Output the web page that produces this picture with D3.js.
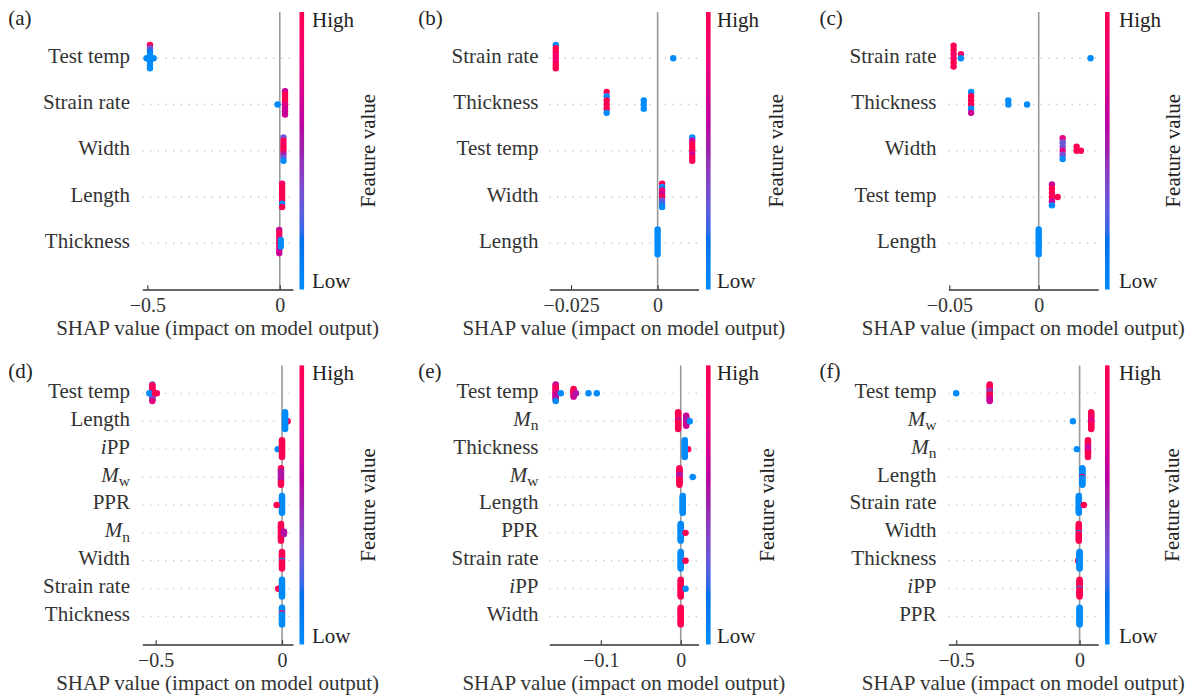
<!DOCTYPE html>
<head>
  <meta charset="utf-8">
  <script src="https://d3js.org/d3.v7.min.js"></script>
  <style>
    body { margin: 0; background: #fff; }
    svg text { font-family: "Liberation Serif", "Times New Roman", Tinos, "Noto Serif", "DejaVu Serif", "Nimbus Roman", FreeSerif, serif; }
  </style>
</head>

<body>
  <div id="shap"></div>
</body>

<script>
  // ---- data: one row per feature, each row = clusters of [SHAP value, feature-value codes top->bottom]
  // codes: 0 = low feature value (blue) ... 9 = high (red)
  const featuresA = ["Test temp", "Strain rate", "Width", "Length", "Thickness"];
  const shapA = [
    [[-0.49, "93100000"], [-0.476, "0"], [-0.503, "0"]],
    [[-0.008, "0"], [0.020, "69997666"]],
    [[0.014, "39899530"]],
    [[0.009, "89999909"]],
    [[-0.002, "69899866"], [0.004, "000"]]
  ];
  const ticksA = [-0.5, 0];
  const xlimA = [-0.519, 0.050];

  const featuresB = ["Strain rate", "Thickness", "Test temp", "Width", "Length"];
  const shapB = [
    [[-0.0294, "09988899"], [0.0045, "0"]],
    [[-0.0147, "909990"], [-0.004, "000"]],
    [[0.010, "06999699"]],
    [[0.0013, "90869320"]],
    [[0.0, "0000000000"]]
  ];
  const ticksB = [-0.025, 0];
  const xlimB = [-0.03127, 0.0118];

  const featuresC = ["Strain rate", "Thickness", "Width", "Test temp", "Length"];
  const shapC = [
    [[-0.0476, "998899"], [-0.0435, "80"], [0.029, "0"]],
    [[-0.0378, "099906"], [-0.017, "00"], [-0.0065, "0"]],
    [[0.0134, "733730"], [0.0212, "99"], [0.0236, "9"]],
    [[0.0074, "699960"], [0.0106, "9"]],
    [[0.0, "0000000000"]]
  ];
  const ticksC = [-0.05, 0];
  const xlimC = [-0.05056, 0.03333];

  const featuresD = ["Test temp", "Length", "iPP", "Mw", "PPR", "Mn", "Width", "Strain rate", "Thickness"];
  const shapD = [
    [[-0.513, "3998898986543347"], [-0.525, "0"], [-0.495, "8"], [-0.503, "9"]],
    [[0.0225, "9"], [0.012, "0000000000000000"]],
    [[-0.017, "0"], [0.0, "9999999999999999"]],
    [[-0.004, "9995555555555999"]],
    [[0.0, "0000000000000000"], [-0.021, "9"]],
    [[-0.004, "9999999889999999"], [0.008, "565"]],
    [[0.0, "9999999909999999"]],
    [[-0.015, "9"], [0.0, "0000000000000000"]],
    [[0.0, "0000090000000000"]]
  ];
  const ticksD = [-0.5, 0];
  const xlimD = [-0.5528, 0.0435];

  const featuresE = ["Test temp", "Mn", "Thickness", "Mw", "Length", "PPR", "Strain rate", "iPP", "Width"];
  const shapE = [
    [[-0.1564, "6678998876666550"], [-0.150, "0"], [-0.134, "99989986"], [-0.131, "5"], [-0.1154, "0"], [-0.105, "0"]],
    [[-0.0033, "9999999669999999"], [0.0068, "6665556666"], [0.0113, "0"]],
    [[0.0093, "9"], [0.005, "0000000000000000"]],
    [[-0.0016, "9999995555999999"], [0.015, "0"]],
    [[0.0025, "0000000000000000"]],
    [[0.0, "0000000000000000"], [0.006, "9"]],
    [[0.0, "0000000000000000"], [0.006, "9"]],
    [[0.0, "9999999999999999"], [0.006, "0"]],
    [[0.0, "9999999999999999"]]
  ];
  const ticksE = [-0.1, 0];
  const xlimE = [-0.1644, 0.0222];

  const featuresF = ["Test temp", "Mw", "Mn", "Length", "Strain rate", "Width", "Thickness", "iPP", "PPR"];
  const shapF = [
    [[-0.50, "0"], [-0.364, "9999884449998666"]],
    [[-0.027, "0"], [0.047, "9999888777889999"]],
    [[-0.011, "0"], [0.034, "9999977666779999"]],
    [[0.011, "0000000090000000"]],
    [[-0.003, "0000000000000000"], [0.017, "9"]],
    [[-0.003, "9999999909999999"]],
    [[-0.006, "9"], [0.0, "0000000000000000"]],
    [[0.0, "9999999909999999"]],
    [[0.0, "0000000000000000"]]
  ];
  const ticksF = [-0.5, 0];
  const xlimF = [-0.532, 0.0758];

  // ---- layout
  const W = 1198, H = 700;
  const serif = "'Liberation Serif', 'Times New Roman', Tinos, 'Noto Serif', 'DejaVu Serif', 'Nimbus Roman', FreeSerif, serif";
  const cols = [
    {x0: 142.3, x1: 293, cb: 299.5, hl: 312, lab: 130, tag: 8.3},
    {x0: 549.3, x1: 698.5, cb: 706, hl: 717, lab: 538.5, tag: 418.3},
    {x0: 948.3, x1: 1098.3, cb: 1105, hl: 1119, lab: 936.5, tag: 819.5}
  ];
  const rows = [
    {y0: 12, y1: 289.5, tag: 24.5},
    {y0: 365.4, y1: 644.5, tag: 378}
  ];
  const panels = [
    {tag: "(a)", features: featuresA, shap: shapA, ticks: ticksA, xlim: xlimA, col: 0, row: 0, fv: 375},
    {tag: "(b)", features: featuresB, shap: shapB, ticks: ticksB, xlim: xlimB, col: 1, row: 0, fv: 783},
    {tag: "(c)", features: featuresC, shap: shapC, ticks: ticksC, xlim: xlimC, col: 2, row: 0, fv: 1180},
    {tag: "(d)", features: featuresD, shap: shapD, ticks: ticksD, xlim: xlimD, col: 0, row: 1, fv: 375},
    {tag: "(e)", features: featuresE, shap: shapE, ticks: ticksE, xlim: xlimE, col: 1, row: 1, fv: 774},
    {tag: "(f)", features: featuresF, shap: shapF, ticks: ticksF, xlim: xlimF, col: 2, row: 1, fv: 1179}
  ];
  const dotR = 3.2;

  // SHAP red_blue colormap (interpolated in LCH)
  function lchToHex(l, c, h) {
    const a = c * Math.cos(h), b = c * Math.sin(h);
    const fy = (l + 16) / 116, fx = fy + a / 500, fz = fy - b / 200;
    const finv = t => t > 6 / 29 ? t * t * t : 3 * (6 / 29) ** 2 * (t - 4 / 29);
    const X = 0.95047 * finv(fx), Y = finv(fy), Z = 1.08883 * finv(fz);
    const lin = [
      3.2404542 * X - 1.5371385 * Y - 0.4985314 * Z,
      -0.9692660 * X + 1.8760108 * Y + 0.0415560 * Z,
      0.0556434 * X - 0.2040259 * Y + 1.0572252 * Z
    ];
    const s = lin.map(v => v <= 0.0031308 ? 12.92 * v : 1.055 * Math.pow(v, 1 / 2.4) - 0.055)
      .map(v => Math.round(255 * Math.min(1, Math.max(0, v))));
    return d3.rgb(s[0], s[1], s[2]).formatHex();
  }
  function redBlue(t) {
    const l = t < 0.5 ? 54 - 28 * t : 40 + 28 * (t - 0.5);
    const c = 70 + 20 * t;
    const h = 4.6588 + (0.35470565 + 2 * Math.PI - 4.6588) * t;
    return lchToHex(l, c, h);
  }

  // beeswarm stacking like shap.summary_plot
  function swarm(clusters) {
    const pts = [];
    clusters.forEach(([v, codes]) => {
      const offs = d3.range(codes.length)
        .map(k => Math.ceil(k / 2) * (k % 2 ? 1 : -1))
        .sort((a, b) => b - a);
      codes.split("").forEach((ch, i) => pts.push({v: v, fv: +ch / 9, off: offs[i]}));
    });
    const m = d3.max(pts, d => d.off) + 1;
    pts.forEach(d => d.dy = d.off * 0.9 * 0.4 / m);
    return pts;
  }

  function featureLabel(sel, name) {
    if (name === "Mw" || name === "Mn") {
      sel.append("tspan").style("font-style", "italic").text("M");
      sel.append("tspan").attr("dy", 4.5).style("font-size", "15.5px").text(name[1]);
    } else if (name === "iPP") {
      sel.append("tspan").style("font-style", "italic").text("i");
      sel.append("tspan").text("PP");
    } else {
      sel.text(name);
    }
  }

  const svg = d3.select("#shap").append("svg")
    .attr("width", W)
    .attr("height", H)
    .attr("font-family", serif);

  const grad = svg.append("defs").append("linearGradient")
    .attr("id", "cbar")
    .attr("x1", 0).attr("y1", 1).attr("x2", 0).attr("y2", 0);
  d3.range(0, 51).forEach(i => {
    grad.append("stop").attr("offset", i / 50).attr("stop-color", redBlue(i / 50));
  });

  panels.forEach(p => {
    const c = cols[p.col], r = rows[p.row];
    const n = p.features.length;
    const x = d3.scaleLinear().domain(p.xlim).range([c.x0, c.x1]);
    const y = d3.scaleLinear().domain([-1, n]).range([r.y1, r.y0]);
    const g = svg.append("g");

    // dotted row guides
    g.selectAll("line.grid")
      .data(p.features)
      .join("line")
      .attr("class", "grid")
      .attr("x1", c.x0).attr("x2", c.x1)
      .attr("y1", (d, i) => y(n - 1 - i))
      .attr("y2", (d, i) => y(n - 1 - i))
      .attr("stroke", "#c8c8c8")
      .attr("stroke-width", 1.3)
      .attr("stroke-dasharray", "1.3 6.4");

    // zero line
    g.append("line")
      .attr("x1", x(0)).attr("x2", x(0))
      .attr("y1", r.y0).attr("y2", r.y1)
      .attr("stroke", "#999")
      .attr("stroke-width", 1.6);

    // dots
    const pts = [];
    p.shap.forEach((clusters, i) => {
      swarm(clusters).forEach(d => { d.pos = n - 1 - i; pts.push(d); });
    });
    g.selectAll("circle")
      .data(pts)
      .join("circle")
      .attr("cx", d => x(d.v))
      .attr("cy", d => y(d.pos + d.dy))
      .attr("r", dotR)
      .attr("fill", d => redBlue(d.fv));

    // x axis
    const ax = g.append("g")
      .attr("transform", `translate(0, ${r.y1})`)
      .call(d3.axisBottom(x)
        .tickValues(p.ticks)
        .tickSize(-4.3)
        .tickSizeOuter(0)
        .tickFormat(d => d === 0 ? "0" : String(d).replace("-", "\u2212")));
    ax.attr("font-family", serif).attr("font-size", 20);
    ax.select(".domain").attr("stroke", "#333").attr("stroke-width", 1.3);
    ax.selectAll(".tick line").attr("stroke", "#333").attr("stroke-width", 1.1);
    ax.selectAll(".tick text")
      .attr("y", 22.5).attr("dy", null)
      .attr("fill", "#333")
      .style("font-size", "20px")
      .style("font-family", serif);

    g.append("text")
      .attr("x", (c.x0 + c.x1) / 2)
      .attr("y", r.y1 + 45)
      .attr("text-anchor", "middle")
      .attr("fill", "#333")
      .style("font-size", "21px")
      .style("font-family", serif)
      .text("SHAP value (impact on model output)");

    // feature labels
    g.selectAll("text.flab")
      .data(p.features)
      .join("text")
      .attr("class", "flab")
      .attr("x", c.lab)
      .attr("y", (d, i) => y(n - 1 - i) + 4.5)
      .attr("text-anchor", "end")
      .attr("fill", "#333")
      .style("font-size", "21px")
      .style("font-family", serif)
      .each(function(d) { featureLabel(d3.select(this), d); });

    // colorbar
    g.append("rect")
      .attr("x", c.cb).attr("y", r.y0)
      .attr("width", 4.6).attr("height", r.y1 - r.y0)
      .attr("fill", "url(#cbar)");
    g.append("text")
      .attr("x", c.hl).attr("y", r.y0 + 14.8)
      .attr("fill", "#222")
      .style("font-size", "21px")
      .style("font-family", serif)
      .text("High");
    g.append("text")
      .attr("x", c.hl).attr("y", r.y1 - 1.5)
      .attr("fill", "#222")
      .style("font-size", "21px")
      .style("font-family", serif)
      .text("Low");
    g.append("text")
      .attr("transform", `translate(${p.fv}, ${(r.y0 + r.y1) / 2}) rotate(-90)`)
      .attr("text-anchor", "middle")
      .attr("fill", "#222")
      .style("font-size", "21px")
      .style("font-family", serif)
      .text("Feature value");

    // panel tag
    g.append("text")
      .attr("x", c.tag).attr("y", r.tag)
      .attr("fill", "#222")
      .style("font-size", "21px")
      .style("font-family", serif)
      .text(p.tag);
  });
</script>
